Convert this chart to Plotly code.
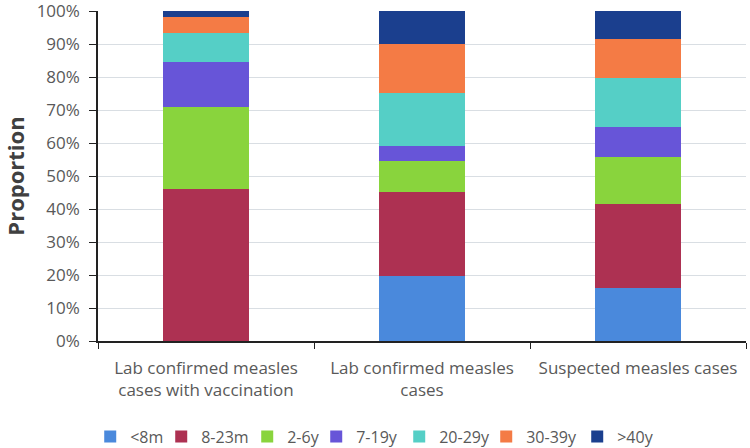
import plotly.graph_objects as go

# categories on the x axis (two-line labels)
categories = [
    "Lab confirmed measles<br>cases with vaccination",
    "Lab confirmed measles<br>cases",
    "Suspected measles cases",
]

# age groups, stacked bottom to top
age_groups = ["<8m", "8-23m", "2-6y", "7-19y", "20-29y", "30-39y", ">40y"]

# proportion (%) per age group, one value per category
lt_8m = [0.0, 19.6, 16.0]
m8_23 = [46.2, 25.6, 25.6]
y2_6 = [24.6, 9.3, 14.3]
y7_19 = [13.7, 4.6, 8.9]
y20_29 = [8.8, 16.1, 14.9]
y30_39 = [4.9, 14.9, 11.7]
gt_40y = [1.8, 9.9, 8.6]

series = [lt_8m, m8_23, y2_6, y7_19, y20_29, y30_39, gt_40y]
colors = ["#4A89DC", "#AD3152", "#89D43D", "#6755D8", "#55CFC6", "#F47B45", "#1B3F8E"]
# legend slot widths so the entries sit a bit tighter, like the original
legend_widths = [26, 41, 24, 38, 42, 46, 36]

y_ticks = list(range(0, 101, 10))
y_tick_labels = [f"{v}%" for v in y_ticks]

fig = go.Figure()
for name, vals, col, lw in zip(age_groups, series, colors, legend_widths):
    fig.add_trace(go.Bar(
        x=categories,
        y=vals,
        name=name,
        legendwidth=lw,
        marker=dict(color=col, line=dict(width=0)),
    ))

fig.update_layout(
    barmode="stack",
    bargap=0.6,
    width=750,
    height=448,
    margin=dict(l=98, r=4, t=11, b=107, autoexpand=False),
    plot_bgcolor="white",
    paper_bgcolor="white",
    font=dict(family="Open Sans", size=17, color="#595959"),
    legend=dict(
        orientation="h",
        x=-0.012,
        xanchor="left",
        y=-0.29,
        yanchor="middle",
        itemwidth=30,
        font=dict(size=16, color="#595959"),
        traceorder="normal",
    ),
)

fig.update_xaxes(
    showline=True,
    linecolor="#222222",
    linewidth=1.5,
    ticks="outside",
    tickson="boundaries",
    ticklen=6,
    tickcolor="#222222",
    ticklabelstandoff=11,
    ticklabeloverflow="allow",
    automargin=False,
    tickfont=dict(size=17, color="#595959"),
)

fig.update_yaxes(
    range=[0, 100],
    tickvals=y_ticks,
    ticktext=y_tick_labels,
    showgrid=True,
    gridcolor="#D9DEE3",
    gridwidth=1,
    showline=True,
    linecolor="#222222",
    linewidth=1.5,
    ticks="outside",
    ticklen=7,
    tickcolor="#222222",
    ticklabelstandoff=6,
    ticklabeloverflow="allow",
    automargin=False,
    tickfont=dict(size=17, color="#595959"),
    title=dict(text="<b>Proportion</b>", font=dict(size=22, color="#404040"), standoff=6),
)

# page body has a default 8px margin; drop it so the figure sits at 0,0
fig.write_html(
    "out.html",
    config={"displayModeBar": False},
    post_script="document.body.style.margin='0';",
)
